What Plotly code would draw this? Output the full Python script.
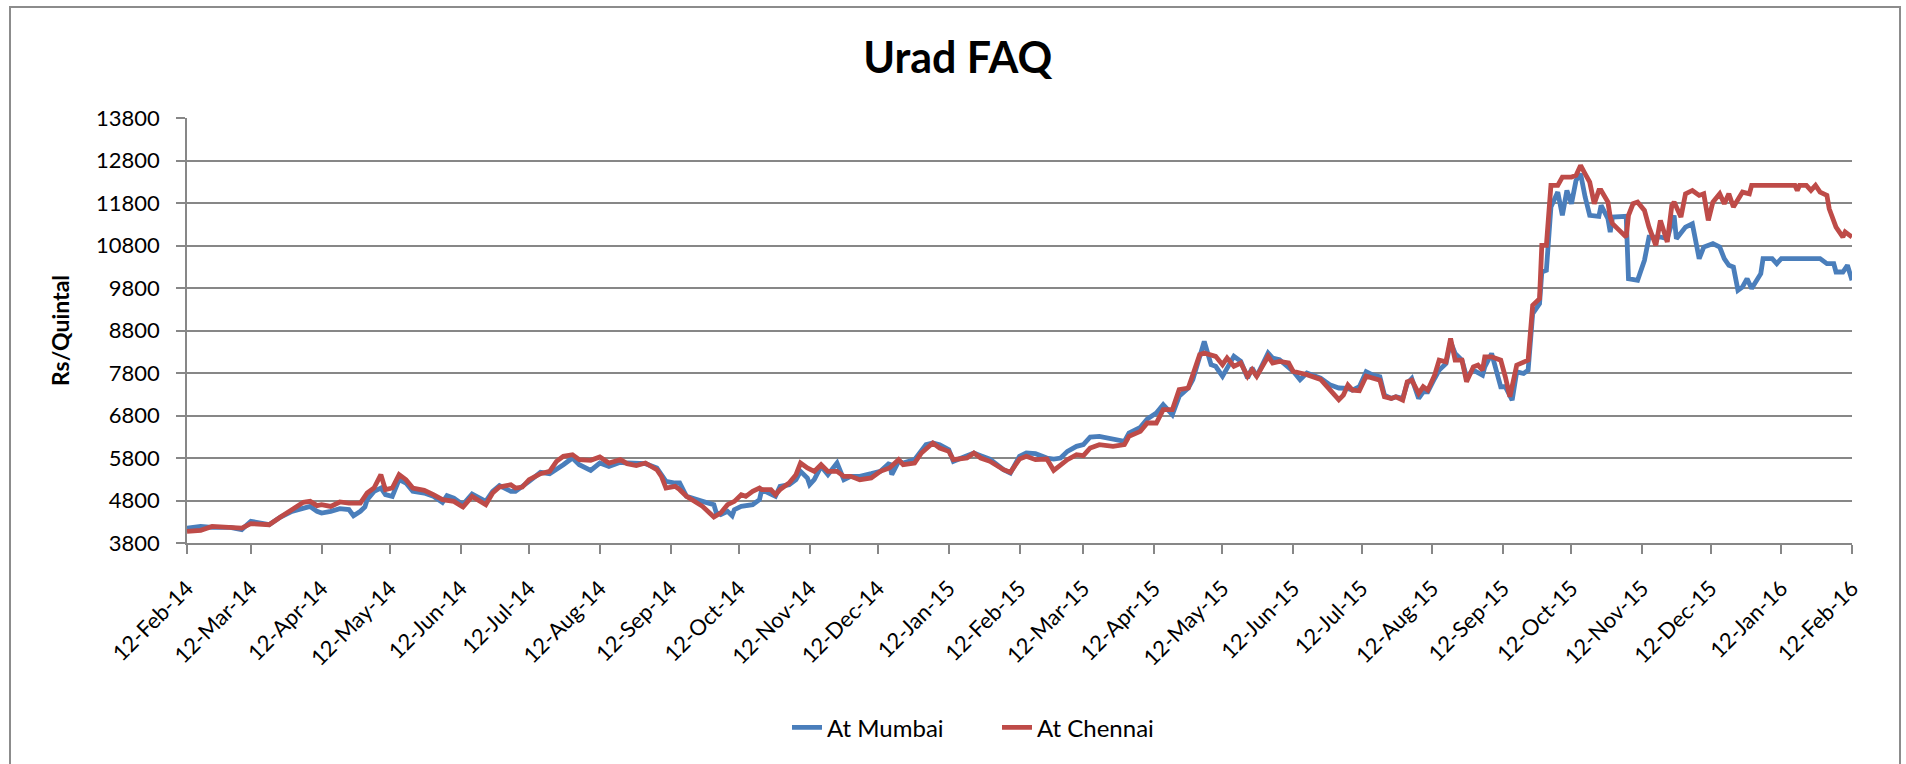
import plotly.graph_objects as go

# ---------------- data ----------------
mumbai_dates = [
    "2014-02-12","2014-02-18","2014-02-23","2014-03-03","2014-03-08","2014-03-12","2014-03-20","2014-03-25",
    "2014-03-30","2014-04-04","2014-04-07","2014-04-10","2014-04-12","2014-04-16","2014-04-20","2014-04-24",
    "2014-04-26","2014-04-29","2014-05-01","2014-05-02","2014-05-05","2014-05-08","2014-05-10","2014-05-13",
    "2014-05-16","2014-05-19","2014-05-22","2014-05-27","2014-05-31","2014-06-04","2014-06-06","2014-06-09",
    "2014-06-13","2014-06-17","2014-06-23","2014-06-26","2014-06-29","2014-07-04","2014-07-06","2014-07-12",
    "2014-07-17","2014-07-21","2014-07-24","2014-07-27","2014-07-31","2014-08-03","2014-08-08","2014-08-12",
    "2014-08-16","2014-08-21","2014-08-24","2014-08-28","2014-09-01","2014-09-06","2014-09-10","2014-09-14",
    "2014-09-16","2014-09-19","2014-09-23","2014-09-26","2014-10-01","2014-10-02","2014-10-04","2014-10-07",
    "2014-10-09","2014-10-10","2014-10-13","2014-10-15","2014-10-18","2014-10-21","2014-10-22","2014-10-28",
    "2014-10-30","2014-11-03","2014-11-06","2014-11-08","2014-11-11","2014-11-12","2014-11-14","2014-11-17",
    "2014-11-20","2014-11-24","2014-11-27","2014-11-30","2014-12-04","2014-12-09","2014-12-13","2014-12-17",
    "2014-12-18","2014-12-21","2014-12-23","2014-12-28","2014-12-31","2015-01-02","2015-01-05","2015-01-08",
    "2015-01-12","2015-01-14","2015-01-20","2015-01-23","2015-01-26","2015-01-30","2015-02-05","2015-02-08",
    "2015-02-12","2015-02-15","2015-02-19","2015-02-24","2015-02-27","2015-03-02","2015-03-05","2015-03-09",
    "2015-03-12","2015-03-15","2015-03-19","2015-03-25","2015-03-30","2015-04-01","2015-04-06","2015-04-09",
    "2015-04-13","2015-04-16","2015-04-20","2015-04-23","2015-04-27","2015-04-29","2015-05-02","2015-05-04",
    "2015-05-07","2015-05-09","2015-05-12","2015-05-17","2015-05-20","2015-05-23","2015-05-25","2015-05-27",
    "2015-06-01","2015-06-03","2015-06-06","2015-06-10","2015-06-12","2015-06-15","2015-06-18","2015-06-24",
    "2015-06-28","2015-07-02","2015-07-06","2015-07-08","2015-07-11","2015-07-14","2015-07-17","2015-07-20",
    "2015-07-22","2015-07-25","2015-07-27","2015-07-30","2015-08-01","2015-08-03","2015-08-06","2015-08-08",
    "2015-08-10","2015-08-13","2015-08-15","2015-08-18","2015-08-20","2015-08-22","2015-08-25","2015-08-27",
    "2015-08-30","2015-09-03","2015-09-04","2015-09-07","2015-09-11","2015-09-13","2015-09-16","2015-09-18",
    "2015-09-21","2015-09-23","2015-09-25","2015-09-28","2015-09-29","2015-10-01","2015-10-03","2015-10-06",
    "2015-10-08","2015-10-10","2015-10-12","2015-10-14","2015-10-16","2015-10-18","2015-10-20","2015-10-24",
    "2015-10-25","2015-10-28","2015-10-29","2015-10-30","2015-11-05","2015-11-06","2015-11-10","2015-11-13",
    "2015-11-15","2015-11-20","2015-11-23","2015-11-26","2015-11-27","2015-12-01","2015-12-04","2015-12-07",
    "2015-12-09","2015-12-13","2015-12-16","2015-12-18","2015-12-20","2015-12-22","2015-12-24","2015-12-26",
    "2015-12-28","2015-12-30","2016-01-03","2016-01-04","2016-01-08","2016-01-10","2016-01-12","2016-01-29",
    "2016-02-01","2016-02-04","2016-02-05","2016-02-08","2016-02-10","2016-02-12",
]
mumbai_values = [
    4150,4190,4170,4170,4115,4310,4230,4410,
    4545,4620,4660,4545,4505,4545,4610,4585,
    4443,4545,4650,4820,5015,5094,4937,4898,
    5290,5212,5015,4976,4898,4757,4914,4858,
    4702,4953,4780,5015,5149,5015,5015,5251,
    5462,5431,5525,5643,5800,5643,5510,5682,
    5604,5698,5682,5667,5667,5565,5251,5212,
    5212,4898,4820,4780,4702,4522,4467,4545,
    4443,4585,4663,4678,4702,4820,5055,4898,
    5133,5173,5290,5486,5330,5173,5290,5604,
    5408,5682,5290,5369,5369,5431,5486,5682,
    5408,5722,5682,5761,5996,6114,6153,6114,
    5996,5722,5855,5918,5855,5776,5525,5447,
    5839,5918,5902,5800,5776,5800,5957,6074,
    6114,6294,6310,6231,6192,6388,6522,6718,
    6859,7055,6820,7251,7447,7643,8231,8545,
    7996,7957,7722,8192,8074,7682,7918,7722,
    8270,8153,8114,7918,7839,7643,7800,7682,
    7525,7447,7436,7397,7476,7828,7750,7710,
    7280,7202,7241,7202,7554,7671,7202,7358,
    7358,7671,7867,8024,8533,8259,8102,7710,
    7867,7750,7945,8259,7476,7476,7162,7828,
    7789,7867,9198,9433,10177,10216,11704,12056,
    11508,12095,11782,12330,12487,11939,11508,11485,
    11743,11430,11117,11469,11485,10020,9981,10451,
    10999,10999,10960,11508,10960,11234,11312,10490,
    10764,10843,10764,10490,10334,10294,9746,9825,
    10020,9786,10138,10490,10490,10373,10490,10490,
    10373,10373,10177,10177,10334,9981,
]

chennai_dates = [
    "2014-02-12","2014-02-18","2014-02-23","2014-03-03","2014-03-08","2014-03-12","2014-03-20","2014-03-25",
    "2014-03-30","2014-04-04","2014-04-07","2014-04-10","2014-04-12","2014-04-16","2014-04-20","2014-04-24",
    "2014-04-29","2014-05-02","2014-05-05","2014-05-08","2014-05-10","2014-05-13","2014-05-16","2014-05-19",
    "2014-05-22","2014-05-27","2014-05-31","2014-06-04","2014-06-09","2014-06-13","2014-06-17","2014-06-23",
    "2014-06-26","2014-06-29","2014-07-04","2014-07-06","2014-07-09","2014-07-12","2014-07-17","2014-07-21",
    "2014-07-24","2014-07-27","2014-07-31","2014-08-03","2014-08-08","2014-08-12","2014-08-16","2014-08-21",
    "2014-08-24","2014-08-28","2014-09-01","2014-09-06","2014-09-08","2014-09-10","2014-09-14","2014-09-16",
    "2014-09-19","2014-09-23","2014-09-26","2014-10-01","2014-10-04","2014-10-07","2014-10-10","2014-10-13",
    "2014-10-15","2014-10-18","2014-10-21","2014-10-22","2014-10-26","2014-10-28","2014-10-30","2014-11-03",
    "2014-11-06","2014-11-08","2014-11-11","2014-11-14","2014-11-17","2014-11-20","2014-11-24","2014-11-27",
    "2014-11-30","2014-12-04","2014-12-09","2014-12-13","2014-12-17","2014-12-21","2014-12-23","2014-12-28",
    "2014-12-31","2015-01-05","2015-01-08","2015-01-12","2015-01-14","2015-01-20","2015-01-23","2015-01-26",
    "2015-01-30","2015-02-05","2015-02-08","2015-02-12","2015-02-15","2015-02-19","2015-02-24","2015-02-27",
    "2015-03-05","2015-03-09","2015-03-12","2015-03-15","2015-03-19","2015-03-25","2015-03-30","2015-04-01",
    "2015-04-06","2015-04-09","2015-04-13","2015-04-16","2015-04-20","2015-04-23","2015-04-27","2015-04-29",
    "2015-05-02","2015-05-04","2015-05-07","2015-05-09","2015-05-12","2015-05-14","2015-05-17","2015-05-20",
    "2015-05-23","2015-05-25","2015-05-27","2015-06-01","2015-06-03","2015-06-06","2015-06-10","2015-06-12",
    "2015-06-15","2015-06-18","2015-06-24","2015-06-28","2015-07-02","2015-07-04","2015-07-06","2015-07-08",
    "2015-07-11","2015-07-14","2015-07-17","2015-07-20","2015-07-22","2015-07-25","2015-07-27","2015-07-30",
    "2015-08-01","2015-08-03","2015-08-06","2015-08-08","2015-08-10","2015-08-13","2015-08-15","2015-08-18",
    "2015-08-20","2015-08-22","2015-08-25","2015-08-27","2015-08-30","2015-09-01","2015-09-03","2015-09-04",
    "2015-09-07","2015-09-11","2015-09-13","2015-09-15","2015-09-18","2015-09-21","2015-09-23","2015-09-25",
    "2015-09-28","2015-09-29","2015-10-01","2015-10-03","2015-10-06","2015-10-08","2015-10-12","2015-10-14",
    "2015-10-16","2015-10-18","2015-10-20","2015-10-22","2015-10-24","2015-10-25","2015-10-28","2015-10-29",
    "2015-10-30","2015-11-02","2015-11-05","2015-11-06","2015-11-08","2015-11-10","2015-11-13","2015-11-15",
    "2015-11-18","2015-11-20","2015-11-23","2015-11-25","2015-11-26","2015-11-29","2015-12-01","2015-12-04",
    "2015-12-07","2015-12-09","2015-12-11","2015-12-13","2015-12-16","2015-12-18","2015-12-20","2015-12-22",
    "2015-12-24","2015-12-26","2015-12-29","2015-12-30","2016-01-18","2016-01-19","2016-01-20","2016-01-23",
    "2016-01-25","2016-01-27","2016-01-29","2016-02-01","2016-02-02","2016-02-05","2016-02-08","2016-02-09",
    "2016-02-11","2016-02-12",
]
chennai_values = [
    4075,4098,4190,4170,4150,4255,4230,4410,
    4585,4757,4780,4680,4700,4660,4765,4740,
    4740,4976,5094,5408,5055,5094,5408,5290,
    5094,5040,4937,4820,4780,4647,4898,4700,
    4976,5117,5172,5094,5117,5290,5431,5486,
    5720,5840,5878,5760,5745,5823,5682,5761,
    5667,5620,5682,5525,5369,5094,5133,5055,
    4898,4780,4663,4412,4506,4702,4780,4937,
    4898,5015,5094,5055,5055,4937,5055,5212,
    5408,5682,5565,5486,5643,5486,5486,5369,
    5369,5290,5330,5486,5565,5760,5643,5682,
    5918,6153,6035,5957,5760,5800,5918,5800,
    5722,5525,5463,5776,5839,5761,5776,5510,
    5761,5878,5855,6035,6114,6074,6114,6310,
    6427,6623,6623,6937,6937,7408,7447,7761,
    8231,8270,8231,8192,7996,8153,7957,8035,
    7722,7878,7722,8192,8035,8074,8035,7839,
    7800,7761,7650,7408,7173,7280,7515,7397,
    7382,7726,7671,7632,7241,7202,7241,7162,
    7593,7632,7319,7476,7397,7750,8102,8063,
    8611,8102,8102,7593,7945,7985,7867,8180,
    8180,8102,7710,7241,7985,8063,8102,9394,
    9550,10803,10803,12213,12213,12409,12409,12448,
    12683,12487,12291,11782,12095,12095,11821,11469,
    11312,11156,10999,11508,11782,11821,11626,11234,
    10803,11391,10882,11743,11821,11469,12017,12095,
    11978,12017,11391,11821,12017,11782,12017,11704,
    11900,12056,12017,12213,12213,12095,12213,12213,
    12095,12213,12056,11978,11665,11234,10999,11117,
    11038,10999,
]

tick_dates = [
    "2014-02-12","2014-03-12","2014-04-12","2014-05-12","2014-06-12","2014-07-12","2014-08-12",
    "2014-09-12","2014-10-12","2014-11-12","2014-12-12","2015-01-12","2015-02-12","2015-03-12",
    "2015-04-12","2015-05-12","2015-06-12","2015-07-12","2015-08-12","2015-09-12","2015-10-12",
    "2015-11-12","2015-12-12","2016-01-12","2016-02-12",
]
tick_labels = [
    "12-Feb-14","12-Mar-14","12-Apr-14","12-May-14","12-Jun-14","12-Jul-14","12-Aug-14",
    "12-Sep-14","12-Oct-14","12-Nov-14","12-Dec-14","12-Jan-15","12-Feb-15","12-Mar-15",
    "12-Apr-15","12-May-15","12-Jun-15","12-Jul-15","12-Aug-15","12-Sep-15","12-Oct-15",
    "12-Nov-15","12-Dec-15","12-Jan-16","12-Feb-16",
]
y_ticks = [3800, 4800, 5800, 6800, 7800, 8800, 9800, 10800, 11800, 12800, 13800]
y_labels = [str(v) for v in y_ticks]

# ---------------- figure ----------------
FONT = "Lato, 'Open Sans', sans-serif"
GRID = "#878787"
BLUE = "#4A7EBB"
RED = "#BE4B48"

fig = go.Figure()
fig.add_trace(go.Scatter(x=mumbai_dates, y=mumbai_values, mode="lines", name="At Mumbai",
                         line=dict(color=BLUE, width=4.8)))
fig.add_trace(go.Scatter(x=chennai_dates, y=chennai_values, mode="lines", name="At Chennai",
                         line=dict(color=RED, width=4.8)))

W, H = 1906, 764
ml, mr, mt, mb = 187, 54, 118, 221
pw, ph = W - ml - mr, H - mt - mb

fig.update_layout(
    width=W, height=H,
    margin=dict(l=ml, r=mr, t=mt, b=mb, pad=0),
    paper_bgcolor="white", plot_bgcolor="white",
    font=dict(family=FONT, color="#000000", size=22),
    title=dict(text="<b>Urad FAQ</b>", x=0.5025, xref="container", xanchor="center",
               y=1 - 58 / H, yref="container", yanchor="middle",
               font=dict(family=FONT, size=43, color="#000000")),
    showlegend=True,
    legend=dict(orientation="h", x=(787 - ml) / pw, xanchor="left",
                y=(543.3 - 728) / ph, yanchor="middle",
                font=dict(family=FONT, size=24, color="#000000"),
                bgcolor="rgba(0,0,0,0)", itemwidth=30,
                entrywidth=165, entrywidthmode="pixels"),
    xaxis=dict(type="date", range=["2014-02-12", "2016-02-12"],
               tickmode="array", tickvals=tick_dates, ticktext=tick_labels,
               tickangle=-45, ticks="outside", ticklen=9, tickwidth=1.5, tickcolor=GRID,
               ticklabelstandoff=13,
               showline=True, linecolor=GRID, linewidth=1.5, showgrid=False, zeroline=False,
               tickfont=dict(family=FONT, size=22, color="#000000")),
    yaxis=dict(range=[3800, 13800], tickmode="array", tickvals=y_ticks, ticktext=y_labels,
               ticks="outside", ticklen=9, tickwidth=1.5, tickcolor=GRID,
               showline=True, linecolor=GRID, linewidth=1.5,
               showgrid=True, gridcolor=GRID, gridwidth=1.5, zeroline=False,
               ticklabelstandoff=12,
               tickfont=dict(family=FONT, size=22, color="#000000"),
               title=dict(text="<b>Rs/Quintal</b>", standoff=20,
                          font=dict(family=FONT, size=23, color="#000000"))),
)

# outer chart frame (left, top, right edges; bottom lies below the visible area)
def px(xp):
    return (xp - ml) / pw
def py(yp):
    return (H - mb - yp) / ph
fig.add_shape(type="path", xref="paper", yref="paper",
              path=f"M {px(10)} {py(800)} L {px(10)} {py(7)} L {px(1900)} {py(7)} L {px(1900)} {py(800)}",
              line=dict(color="#8C8C8C", width=2), layer="above")

fig.write_html("out.html", config={"displayModeBar": False},
               post_script="document.body.style.margin='0px';")
